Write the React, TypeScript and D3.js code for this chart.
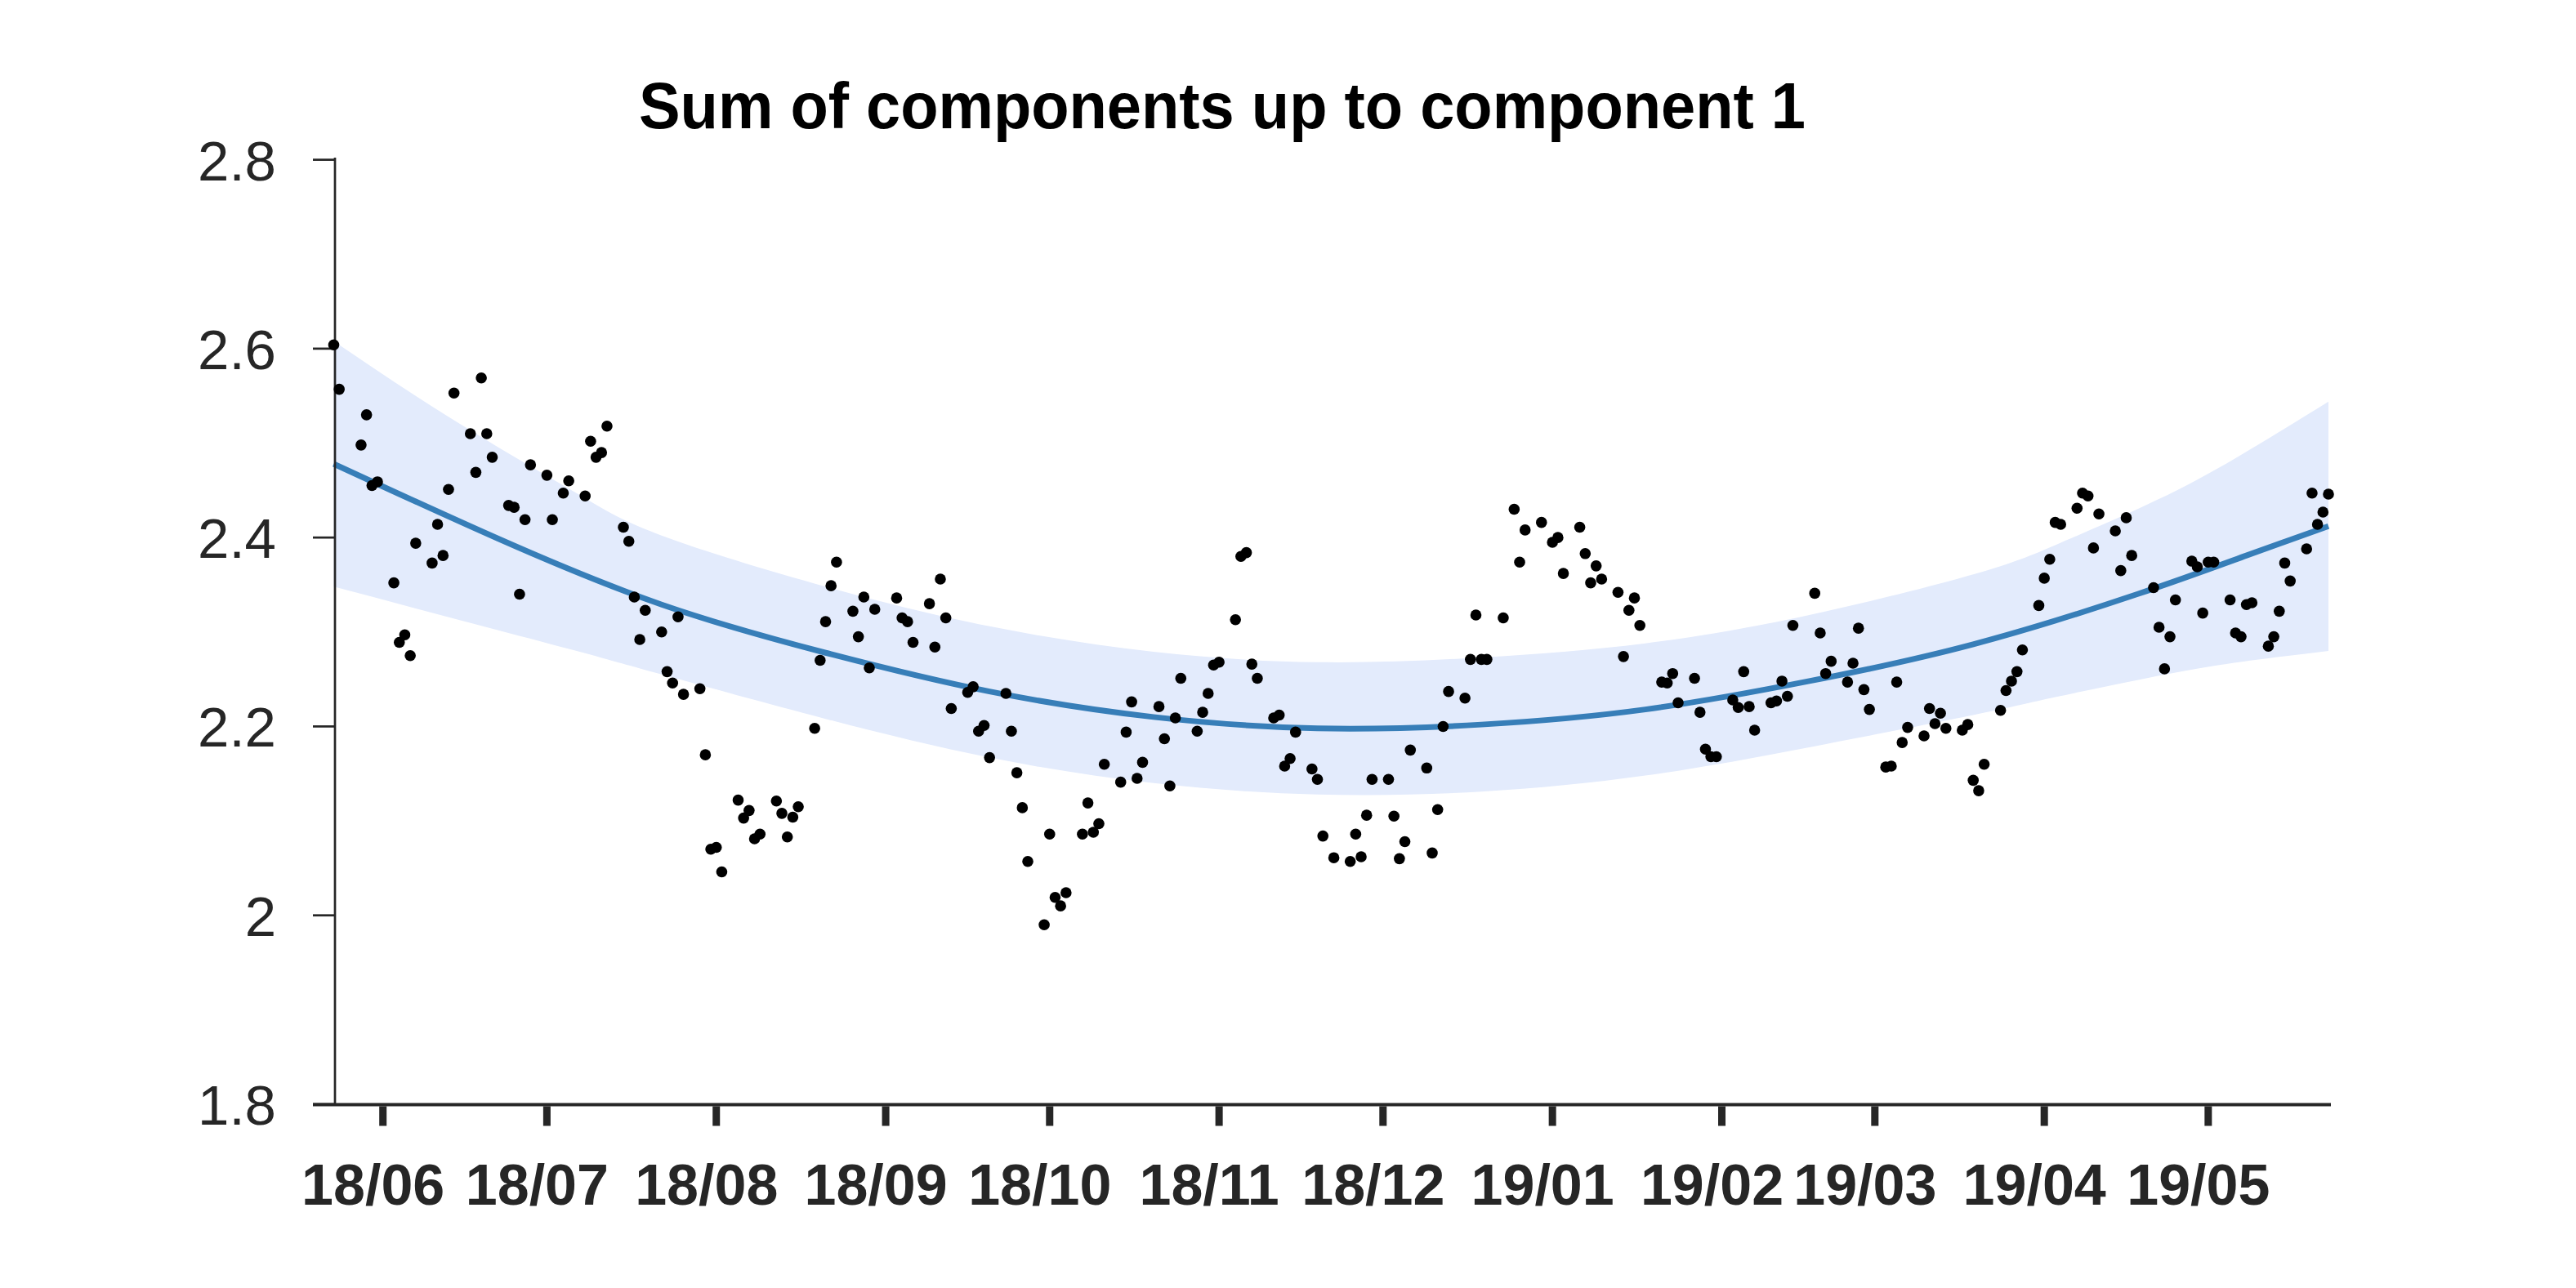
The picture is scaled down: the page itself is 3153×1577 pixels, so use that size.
import React from "react";
import * as d3 from "d3";

const startDate = new Date(2018, 4, 23);
const endDate = new Date(2019, 4, 23);

const dayOffsets = [
  0, 1, 5, 6, 7, 8, 11, 12, 13, 14, 15, 18, 19, 20, 21, 22, 25, 26, 27, 28, 29, 32, 33, 34, 35, 36, 39, 40, 42, 43,
  46, 47, 48, 49, 50, 53, 54, 55, 56, 57, 60, 61, 62, 63, 64, 67, 68, 69, 70, 71, 74, 75, 76, 77, 78, 81, 82, 83, 84, 85,
  88, 89, 90, 91, 92, 95, 96, 97, 98, 99, 103, 104, 105, 106, 109, 110, 111, 112, 113, 116, 117, 118, 119, 120,
  123, 124, 125, 126, 127, 130, 131, 132, 133, 134, 137, 138, 139, 140, 141, 144, 145, 146, 147, 148,
  151, 152, 153, 154, 155, 158, 159, 160, 161, 162, 165, 166, 167, 168, 169, 172, 173, 174, 175, 176,
  179, 180, 181, 183, 186, 187, 188, 189, 190, 193, 194, 195, 196, 197, 200, 201, 202, 203, 204,
  207, 208, 209, 210, 211, 214, 216, 217, 218, 221, 223, 224, 225, 228, 229, 230, 231, 232,
  235, 236, 237, 238, 239, 243, 244, 245, 246, 249, 250, 251, 252, 253, 256, 257, 258, 259, 260,
  263, 264, 265, 266, 267, 271, 272, 273, 274, 277, 278, 279, 280, 281, 284, 285, 286, 287, 288,
  291, 292, 293, 294, 295, 298, 299, 300, 301, 302, 305, 306, 307, 308, 309, 312, 313, 314, 315, 316,
  319, 320, 321, 322, 323, 326, 327, 328, 329, 333, 334, 335, 336, 337, 340, 341, 342, 343, 344,
  347, 348, 349, 350, 351, 354, 355, 356, 357, 358, 361, 362, 363, 364, 365,
];

const values = [
  2.604, 2.557, 2.498, 2.53, 2.455, 2.459, 2.352, 2.289, 2.297, 2.275, 2.394, 2.373, 2.414, 2.381, 2.451, 2.553, 2.51, 2.469, 2.569, 2.51, 2.485, 2.434, 2.432, 2.34, 2.419, 2.477, 2.466, 2.419, 2.447, 2.46,
  2.444, 2.502, 2.485, 2.49, 2.518, 2.411, 2.396, 2.337, 2.292, 2.323, 2.3, 2.258, 2.246, 2.316, 2.234, 2.24, 2.17, 2.07, 2.072, 2.046, 2.122, 2.103, 2.111, 2.081, 2.086, 2.121, 2.108, 2.083, 2.104, 2.115,
  2.198, 2.27, 2.311, 2.349, 2.374, 2.322, 2.295, 2.337, 2.262, 2.324, 2.336, 2.315, 2.311, 2.289, 2.33, 2.284, 2.356, 2.315, 2.219, 2.236, 2.242, 2.195, 2.201, 2.167,
  2.235, 2.195, 2.151, 2.114, 2.057, 1.99, 2.086, 2.019, 2.01, 2.024, 2.086, 2.119, 2.088, 2.097, 2.16, 2.141, 2.194, 2.226, 2.145, 2.162,
  2.221, 2.187, 2.137, 2.209, 2.251, 2.195, 2.215, 2.235, 2.265, 2.268, 2.313, 2.38, 2.384, 2.266, 2.251, 2.209, 2.212, 2.158, 2.166, 2.194,
  2.155, 2.144, 2.084, 2.061, 2.057, 2.086, 2.062, 2.106, 2.144, 2.144, 2.105, 2.06, 2.078, 2.175, 2.156, 2.066, 2.112, 2.2, 2.237,
  2.23, 2.271, 2.318, 2.271, 2.271, 2.315, 2.43, 2.374, 2.408, 2.416, 2.395, 2.4, 2.362, 2.411, 2.383, 2.352, 2.37, 2.356,
  2.342, 2.274, 2.323, 2.336, 2.307, 2.247, 2.246, 2.256, 2.225, 2.251, 2.215, 2.176, 2.168, 2.168, 2.228, 2.22, 2.258, 2.221, 2.196,
  2.225, 2.227, 2.248, 2.232, 2.307, 2.341, 2.299, 2.256, 2.269, 2.247, 2.267, 2.304, 2.239, 2.218, 2.157, 2.158, 2.247, 2.183, 2.199,
  2.19, 2.219, 2.203, 2.214, 2.198, 2.196, 2.202, 2.143, 2.132, 2.16, 2.217, 2.238, 2.248, 2.258, 2.281, 2.328, 2.357, 2.377, 2.416, 2.414,
  2.431, 2.447, 2.444, 2.389, 2.425, 2.407, 2.365, 2.421, 2.381, 2.347, 2.305, 2.261, 2.295, 2.334, 2.375, 2.369, 2.32, 2.374, 2.374,
  2.334, 2.299, 2.295, 2.329, 2.331, 2.285, 2.295, 2.322, 2.373, 2.354, 2.388, 2.447, 2.414, 2.427, 2.446,
];

const trendDays = [0, 30, 60, 90, 120, 150, 180, 210, 240, 270, 300, 330, 350, 365];
const trendValues = [2.478, 2.399, 2.329, 2.278, 2.237, 2.21, 2.198, 2.202, 2.218, 2.248, 2.287, 2.34, 2.381, 2.412];

const bandDays = [0, 15, 30, 45, 60, 90, 120, 150, 180, 210, 240, 270, 300, 315, 330, 345, 365];
const bandUpper = [2.608, 2.55, 2.496, 2.445, 2.402, 2.348, 2.306, 2.279, 2.268, 2.273, 2.288, 2.318, 2.361, 2.392, 2.43, 2.474, 2.544];
const bandLower = [2.348, 2.325, 2.302, 2.279, 2.255, 2.208, 2.167, 2.14, 2.128, 2.131, 2.148, 2.178, 2.212, 2.231, 2.249, 2.265, 2.28];

const yTicks = [1.8, 2, 2.2, 2.4, 2.6, 2.8];
const titleText = "Sum of components up to component 1";

const AXIS = "#262626";

export default function App() {
  const W = 3153;
  const H = 1577;
  const x = d3.scaleTime().domain([startDate, endDate]).range([408.5, 2850]);
  const y = d3.scaleLinear().domain([1.8, 2.8]).range([1352, 195.6]);
  const dt = (d: number) => d3.timeDay.offset(startDate, d);

  const points = dayOffsets.map((d, i) => ({ date: dt(d), v: values[i] }));
  const trend = trendDays.map((d, i) => ({ date: dt(d), v: trendValues[i] }));
  const band = bandDays.map((d, i) => ({ date: dt(d), lo: bandLower[i], hi: bandUpper[i] }));

  const areaGen = d3
    .area<any>()
    .x((d) => x(d.date))
    .y0((d) => y(d.lo))
    .y1((d) => y(d.hi))
    .curve(d3.curveNatural);
  const lineGen = d3
    .line<any>()
    .x((d) => x(d.date))
    .y((d) => y(d.v))
    .curve(d3.curveNatural);

  const monthTicks = d3.timeMonth.range(new Date(2018, 5, 1), new Date(2019, 5, 1));
  const fmt = d3.timeFormat("%y/%m");
  const font = "'Liberation Sans', Arial, Helvetica, sans-serif";

  return (
    <svg
      width={W}
      height={H}
      style={{ position: "absolute", left: 0, top: 0, display: "block", background: "#fff" }}
    >
      <rect x={0} y={0} width={W} height={H} fill="#fff" />
      <path d={areaGen(band) || ""} fill="#e3ebfc" stroke="none" />
      <path d={lineGen(trend) || ""} fill="none" stroke="#377eb8" strokeWidth={7} />

      {/* axes */}
      <line x1={410} x2={410} y1={193} y2={1352} stroke={AXIS} strokeWidth={2.7} />
      <line x1={383} x2={2853} y1={1352.5} y2={1352.5} stroke={AXIS} strokeWidth={4} />
      {yTicks.map((t) => (
        <g key={t}>
          <line x1={383} x2={410} y1={y(t)} y2={y(t)} stroke={AXIS} strokeWidth={2.7} />
          <text
            x={338}
            y={y(t) + 25}
            textAnchor="end"
            fontFamily={font}
            fontSize={69}
            fill={AXIS}
          >
            {String(t)}
          </text>
        </g>
      ))}
      {monthTicks.map((m) => (
        <g key={m.getTime()}>
          <rect x={x(m) - 4.5} y={1354.5} width={9} height={24} fill={AXIS} />
          <text
            x={x(m) - 12}
            y={1475}
            textAnchor="middle"
            fontFamily={font}
            fontWeight="bold"
            fontSize={70}
            fill={AXIS}
          >
            {fmt(m)}
          </text>
        </g>
      ))}

      {points.map((p, i) => (
        <circle key={i} cx={x(p.date)} cy={y(p.v)} r={6.8} fill="#000" />
      ))}

      <text
        x={1496}
        y={156.6}
        textAnchor="middle"
        fontFamily={font}
        fontWeight="bold"
        fontSize={79}
        fill="#000"
        textLength={1428}
        lengthAdjust="spacingAndGlyphs"
      >
        {titleText}
      </text>
    </svg>
  );
}
